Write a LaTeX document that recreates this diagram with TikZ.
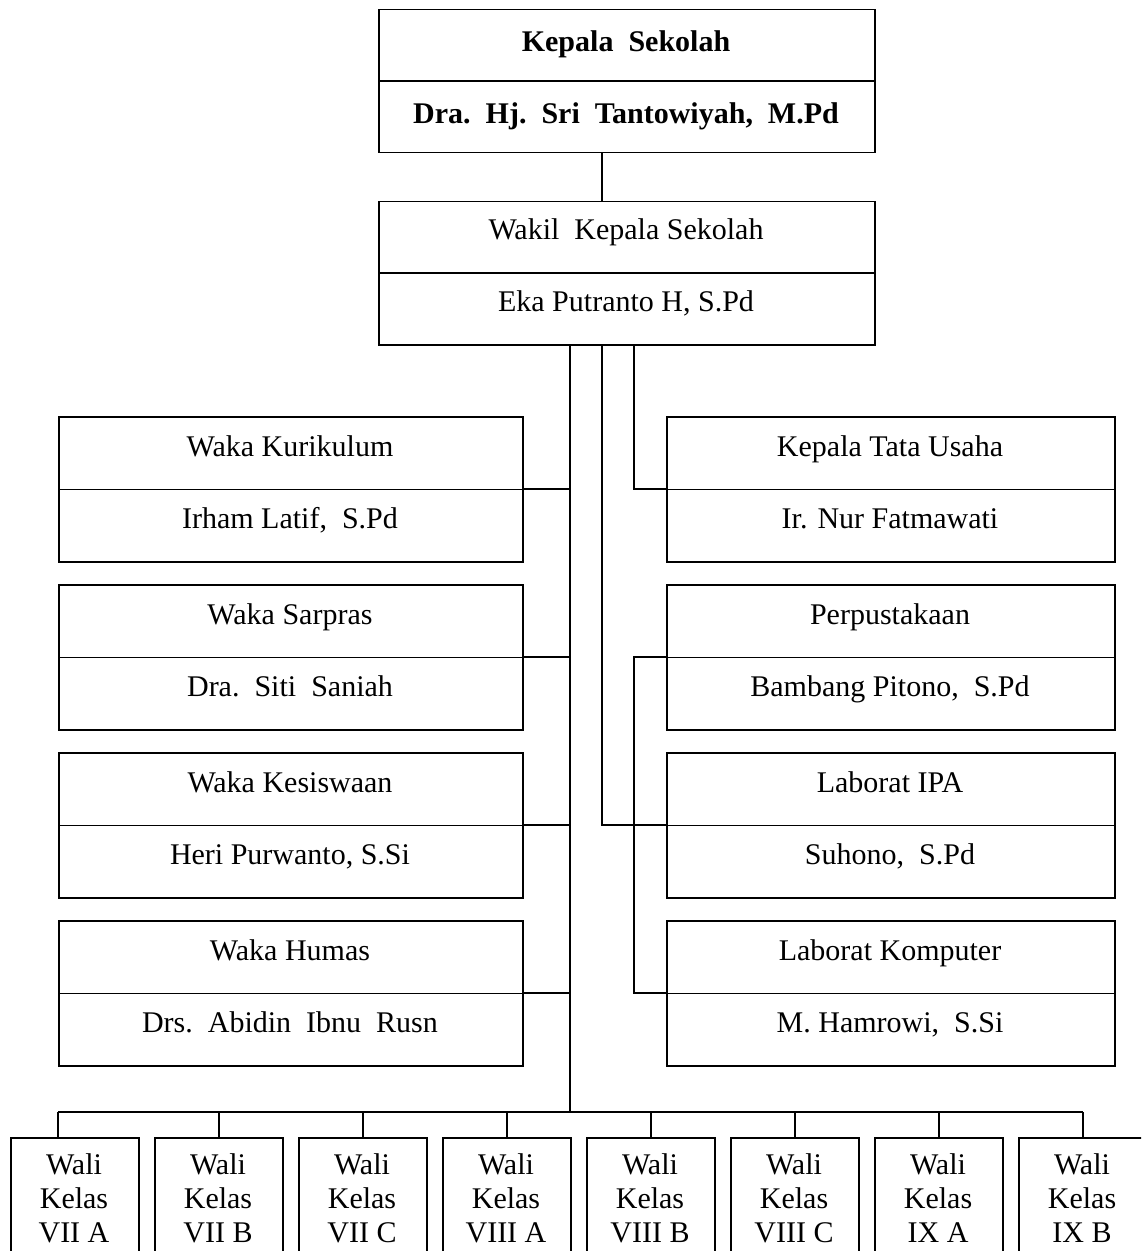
\documentclass[tikz,border=0pt]{standalone}
\usepackage{fontspec}
\setmainfont{Liberation Serif}
\begin{document}
\begin{tikzpicture}[x=0.5pt,y=-0.5pt,
  boxline/.style={line width=0.75pt},
  orgbox/.style={draw, boxline, rectangle, inner sep=0pt, anchor=north west},
  bigbox/.style={orgbox, minimum width=248pt, minimum height=71.5pt},
  lbox/.style={orgbox, minimum width=232pt, minimum height=72.5pt},
  rbox/.style={orgbox, minimum width=224pt, minimum height=72.5pt},
  wbox/.style={orgbox, minimum width=64pt, minimum height=70pt},
  txt/.style={inner sep=0pt, anchor=base, font=\fontsize{15pt}{17pt}\selectfont},
  btxt/.style={txt, font=\fontsize{15pt}{17pt}\selectfont\bfseries},
  wtxt/.style={inner sep=0pt, anchor=north, align=center, font=\fontsize{15pt}{17pt}\selectfont},
  conn/.style={line width=1pt}]
\useasboundingbox (0,0) rectangle (1141,1251);
\clip (0,0) rectangle (1141,1251);
\fill[white] (0,0) rectangle (1141,1251);

% top boxes
\node[bigbox] (kepala) at (378,9) {};
\draw[boxline] (kepala.west) -- (kepala.east);
\node[btxt] (kepala-t) at (626,52) {Kepala\ \ Sekolah};
\node[btxt] (kepala-n) at (626,124) {Dra.\ \ Hj.\ \ Sri\ \ Tantowiyah,\ \ M.Pd};

\node[bigbox] (wakil) at (378,201) {};
\draw[boxline] (wakil.west) -- (wakil.east);
\node[txt] (wakil-t) at (626,240) {Wakil\ \ Kepala Sekolah};
\node[txt] (wakil-n) at (626,312) {Eka Putranto H, S.Pd};

% left boxes
\node[lbox] (kur) at (58,416) {};
\node[lbox] (sar) at (58,584) {};
\node[lbox] (kes) at (58,752) {};
\node[lbox] (hum) at (58,920) {};
\foreach \b in {kur,sar,kes,hum} {\draw[boxline] (\b.west) -- (\b.east);}
\node[txt] (kur-t) at (290,456) {Waka Kurikulum};
\node[txt] (kur-n) at (290,528) {Irham Latif,\ \ S.Pd};
\node[txt] (sar-t) at (290,624) {Waka Sarpras};
\node[txt] (sar-n) at (290,696) {Dra.\ \ Siti\ \ Saniah};
\node[txt] (kes-t) at (290,792) {Waka Kesiswaan};
\node[txt] (kes-n) at (290,864) {Heri Purwanto, S.Si};
\node[txt] (hum-t) at (290,960) {Waka Humas};
\node[txt] (hum-n) at (290,1032) {Drs.\ \ Abidin\ \ Ibnu\ \ Rusn};

% right boxes
\node[rbox] (tu) at (666,416) {};
\node[rbox] (perpus) at (666,584) {};
\node[rbox] (ipa) at (666,752) {};
\node[rbox] (kom) at (666,920) {};
\foreach \b in {tu,perpus,ipa,kom} {\draw[boxline] (\b.west) -- (\b.east);}
\node[txt] (tu-t) at (890,456) {Kepala Tata Usaha};
\node[txt] (tu-n) at (890,528) {Ir. Nur Fatmawati};
\node[txt] (perpus-t) at (890,624) {Perpustakaan};
\node[txt] (perpus-n) at (890,696) {Bambang Pitono,\ \ S.Pd};
\node[txt] (ipa-t) at (890,792) {Laborat IPA};
\node[txt] (ipa-n) at (890,864) {Suhono,\ \ S.Pd};
\node[txt] (kom-t) at (890,960) {Laborat Komputer};
\node[txt] (kom-n) at (890,1032) {M. Hamrowi,\ \ S.Si};

% bottom boxes
\foreach \i/\lab in {0/VII A,1/VII B,2/VII C,3/VIII A,4/VIII B,5/VIII C,6/IX A,7/IX B} {
  \node[wbox] (w\i) at ({10+144*\i},1137) {};
  \node[wtxt] (w\i-t) at ({74+144*\i},1153) {Wali\\Kelas\\\lab};
}

% connector coordinates
\coordinate (xL) at (570,0);
\coordinate (xM) at (602,0);
\coordinate (xR) at (634,0);
\coordinate (xW) at (58,0);
\coordinate (bus) at (0,1112);

\draw[conn] (kepala.south -| xM) -- (wakil.north -| xM);
\draw[boxline] (wakil.south -| xL) -- (bus -| xL);
\foreach \b in {kur,sar,kes,hum} {\draw[conn] (\b.east) -- (\b.east -| xL);}
\draw[conn] (wakil.south -| xR) |- (tu.west);
\draw[conn] (wakil.south -| xM) |- (ipa.west);
\draw[conn] (perpus.west) -- (perpus.west -| xR) -- (kom.west -| xR) -- (kom.west);
\draw[conn] (xW |- bus) -- (w7.north |- bus);
\draw[conn] (xW |- bus) -- (xW |- w0.north);
\foreach \i in {1,...,7} {\draw[conn] (w\i.north |- bus) -- (w\i.north);}
\end{tikzpicture}
\end{document}
